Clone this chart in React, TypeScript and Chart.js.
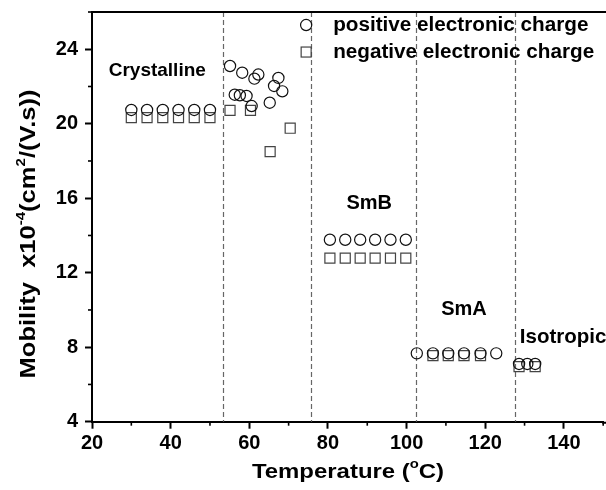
import React, { useEffect, useRef } from "react";
import { Chart, registerables } from "chart.js";

Chart.register(...registerables);

// ---- Data ----
const posTemp = [
  30, 34, 38, 42, 46, 50,
  55.1, 58.2, 61.3, 62.3, 67.4, 66.3, 68.4, 65.2, 56.3, 57.6, 59.3, 60.6,
  80.5, 84.4, 88.2, 92.0, 95.9, 99.8,
  102.6, 106.7, 110.6, 114.6, 118.8, 122.8,
  128.6, 130.7, 132.7,
];
const posMobility = [
  20.74, 20.74, 20.74, 20.74, 20.74, 20.74,
  23.1, 22.74, 22.42, 22.64, 22.46, 22.03, 21.74, 21.13, 21.56, 21.53, 21.49, 20.95,
  13.77, 13.77, 13.77, 13.77, 13.77, 13.77,
  7.67, 7.67, 7.67, 7.67, 7.67, 7.67,
  7.1, 7.1, 7.1,
];
const negTemp = [
  30, 34, 38, 42, 46, 50,
  55.1, 60.3, 65.3, 70.4,
  80.5, 84.4, 88.2, 92.0, 95.9, 99.8,
  106.7, 110.6, 114.6, 118.8,
  128.6, 132.7,
];
const negMobility = [
  20.33, 20.33, 20.33, 20.33, 20.33, 20.33,
  20.72, 20.72, 18.5, 19.76,
  12.78, 12.78, 12.78, 12.78, 12.78, 12.78,
  7.55, 7.55, 7.55, 7.55,
  6.96, 6.96,
];
const phaseBoundaries = [53.2, 75.8, 102.3, 127.5];
const phaseNames = ["Crystalline", "SmB", "SmA", "Isotropic"];
const seriesNames = ["positive electronic charge", "negative electronic charge"];
const xMajorTicks = [20, 40, 60, 80, 100, 120, 140];
const yMajorTicks = [4, 8, 12, 16, 20, 24];

const FONT = "'Liberation Sans', Arial, Helvetica, sans-serif";

type Part = { t: string; sup?: boolean };

function drawRich(
  ctx: CanvasRenderingContext2D,
  parts: Part[],
  cx: number,
  cy: number,
  size: number,
  supSize: number,
  rise: number,
  stretch: number
) {
  const widths: number[] = [];
  let total = 0;
  for (const p of parts) {
    ctx.font = `bold ${p.sup ? supSize : size}px ${FONT}`;
    const w = ctx.measureText(p.t).width;
    widths.push(w);
    total += w;
  }
  ctx.save();
  ctx.translate(cx, cy);
  ctx.scale(stretch, 1);
  let x = -total / 2;
  ctx.textAlign = "left";
  ctx.textBaseline = "middle";
  parts.forEach((p, i) => {
    ctx.font = `bold ${p.sup ? supSize : size}px ${FONT}`;
    ctx.fillText(p.t, x, p.sup ? -rise : 0);
    x += widths[i];
  });
  ctx.restore();
}

const decorPlugin = {
  id: "decor",
  beforeDatasetsDraw(chart: any) {
    const { ctx, chartArea, scales } = chart;
    ctx.save();
    ctx.strokeStyle = "#666";
    ctx.lineWidth = 1.2;
    ctx.setLineDash([5, 3]);
    for (const b of phaseBoundaries) {
      const px = Math.round(scales.x.getPixelForValue(b)) + 0.5;
      ctx.beginPath();
      ctx.moveTo(px, chartArea.top);
      ctx.lineTo(px, chartArea.bottom);
      ctx.stroke();
    }
    ctx.restore();
  },
  afterDraw(chart: any) {
    const { ctx, chartArea, scales, width } = chart;
    const xs = scales.x;
    const ys = scales.y;
    ctx.save();
    // top frame line and bottom axis continuation to the image edge
    ctx.strokeStyle = "#000";
    ctx.lineWidth = 2;
    ctx.beginPath();
    ctx.moveTo(chartArea.left - 1, chartArea.top);
    ctx.lineTo(width, chartArea.top);
    ctx.moveTo(chartArea.right - 1, chartArea.bottom + 1);
    ctx.lineTo(width, chartArea.bottom + 1);
    ctx.stroke();

    // minor ticks
    ctx.lineWidth = 1.6;
    for (let v = 30; v <= 150; v += 20) {
      const px = xs.getPixelForValue(v);
      ctx.beginPath();
      ctx.moveTo(px, chartArea.bottom);
      ctx.lineTo(px, chartArea.bottom + 4);
      ctx.stroke();
    }
    for (let v = 6; v <= 26; v += 4) {
      const py = ys.getPixelForValue(v);
      ctx.beginPath();
      ctx.moveTo(chartArea.left, py);
      ctx.lineTo(chartArea.left - 4, py);
      ctx.stroke();
    }

    ctx.fillStyle = "#000";
    // phase labels
    ctx.font = `bold 19px ${FONT}`;
    ctx.textBaseline = "middle";
    ctx.textAlign = "center";
    ctx.fillText(phaseNames[0], xs.getPixelForValue(36.6), ys.getPixelForValue(22.83));
    ctx.font = `bold 20px ${FONT}`;
    ctx.fillText(phaseNames[1], xs.getPixelForValue(90.5), ys.getPixelForValue(15.72));
    ctx.fillText(phaseNames[2], xs.getPixelForValue(114.6), ys.getPixelForValue(10.05));
    ctx.textAlign = "left";
    ctx.font = `bold 20.5px ${FONT}`;
    ctx.fillText(phaseNames[3], xs.getPixelForValue(128.8), ys.getPixelForValue(8.55));

    // legend
    const lx = xs.getPixelForValue(74.46);
    const ly1 = ys.getPixelForValue(25.3);
    const ly2 = ys.getPixelForValue(23.85);
    ctx.lineWidth = 1.2;
    ctx.strokeStyle = "#111";
    ctx.beginPath();
    ctx.arc(lx, ly1, 5.6, 0, Math.PI * 2);
    ctx.stroke();
    ctx.strokeStyle = "#444";
    ctx.strokeRect(lx - 5, ly2 - 5, 10, 10);
    ctx.font = `bold 20.7px ${FONT}`;
    ctx.textAlign = "left";
    ctx.fillText(seriesNames[0], lx + 27, ly1);
    ctx.fillText(seriesNames[1], lx + 27, ly2);

    // axis titles
    drawRich(ctx, [{ t: "Temperature (" }, { t: "o", sup: true }, { t: "C)" }], 348, 472, 21, 13, 8, 1.14);
    ctx.save();
    ctx.translate(29, 234);
    ctx.rotate(-Math.PI / 2);
    drawRich(
      ctx,
      [
        { t: "Mobility  x10" },
        { t: "-4", sup: true },
        { t: "(cm" },
        { t: "2", sup: true },
        { t: "/(V.s))" },
      ],
      0,
      0,
      22,
      13,
      8,
      1.16
    );
    ctx.restore();
    ctx.restore();
  },
};

export default function App() {
  const ref = useRef<HTMLCanvasElement>(null);
  useEffect(() => {
    if (!ref.current) return;
    const tickFont = { family: FONT, size: 20, weight: "bold" as const };
    const chart = new Chart(ref.current, {
      type: "scatter",
      data: {
        datasets: [
          {
            label: seriesNames[0],
            data: posTemp.map((x, i) => ({ x, y: posMobility[i] })),
            pointStyle: "circle",
            pointRadius: 5.6,
            pointHoverRadius: 5.6,
            borderWidth: 1.2,
            pointBorderWidth: 1.2,
            borderColor: "#111",
            pointBorderColor: "#111",
            backgroundColor: "rgba(0,0,0,0)",
            pointBackgroundColor: "rgba(0,0,0,0)",
            clip: false,
          },
          {
            label: seriesNames[1],
            data: negTemp.map((x, i) => ({ x, y: negMobility[i] })),
            pointStyle: "rect",
            pointRadius: 7.1,
            pointHoverRadius: 7.1,
            borderWidth: 1.2,
            pointBorderWidth: 1.2,
            borderColor: "#444",
            pointBorderColor: "#444",
            backgroundColor: "rgba(0,0,0,0)",
            pointBackgroundColor: "rgba(0,0,0,0)",
            clip: false,
          },
        ],
      },
      options: {
        animation: false,
        responsive: false,
        events: [],
        layout: { autoPadding: false, padding: { top: 12, right: 2.8, left: 0, bottom: 0 } },
        plugins: { legend: { display: false }, tooltip: { enabled: false } },
        scales: {
          x: {
            type: "linear",
            min: 20,
            max: 150,
            afterFit: (s: any) => {
              s.height = 68.3;
              s.paddingLeft = 0;
              s.paddingRight = 0;
            },
            border: { display: true, color: "#000", width: 2 },
            grid: {
              drawOnChartArea: false,
              drawTicks: true,
              tickLength: 7,
              tickWidth: 2,
              tickColor: (c: any) =>
                c.tick && xMajorTicks.includes(c.tick.value) ? "#000" : "rgba(0,0,0,0)",
            },
            ticks: {
              stepSize: 10,
              autoSkip: false,
              maxRotation: 0,
              padding: 3,
              color: "#000",
              font: tickFont,
              callback: (v: any) => (xMajorTicks.includes(Number(v)) ? String(v) : ""),
            },
          },
          y: {
            type: "linear",
            min: 4,
            max: 26,
            afterFit: (s: any) => {
              s.width = 92;
              s.paddingTop = 0;
              s.paddingBottom = 0;
            },
            border: { display: true, color: "#000", width: 2 },
            grid: {
              drawOnChartArea: false,
              drawTicks: true,
              tickLength: 7,
              tickWidth: 2,
              tickColor: (c: any) =>
                c.tick && yMajorTicks.includes(c.tick.value) ? "#000" : "rgba(0,0,0,0)",
            },
            ticks: {
              stepSize: 2,
              autoSkip: false,
              padding: 7,
              color: "#000",
              font: tickFont,
              callback: (v: any) => (yMajorTicks.includes(Number(v)) ? String(v) : ""),
            },
          },
        },
      },
      plugins: [decorPlugin],
    });
    return () => chart.destroy();
  }, []);

  return (
    <div style={{ position: "absolute", left: 0, top: 0, width: 606, height: 490, background: "#fff" }}>
      <canvas ref={ref} width={606} height={490} style={{ display: "block" }} />
    </div>
  );
}
